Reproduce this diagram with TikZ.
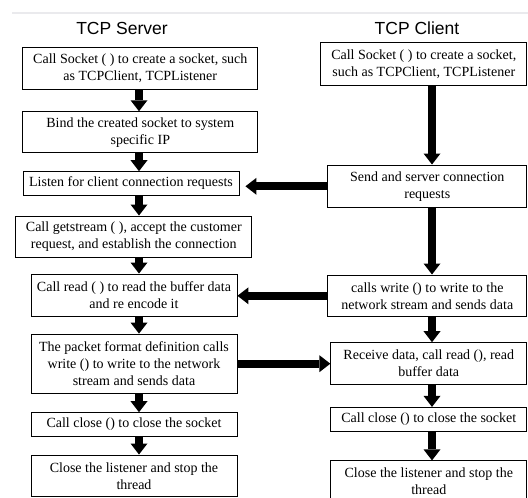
\documentclass[tikz,border=0pt]{standalone}
\usepackage{fontspec}
\setmainfont{Liberation Serif}
\newfontfamily\titlefont{Liberation Sans}
\usetikzlibrary{arrows.meta}
\tikzset{
  box/.style={draw, line width=0.9pt, inner sep=0pt, align=center,
    font=\fontsize{14}{17}\selectfont},
  title/.style={font=\titlefont\fontsize{17.5}{20}\selectfont},
  flow/.style={line width=8pt, -{Triangle[width=17pt,length=11pt,line width=0pt]}},
  rule/.style={draw=blue!8!gray!15, line width=2pt}
}

\begin{document}
\begin{tikzpicture}[x=1pt,y=-1pt]
  \useasboundingbox (0,0) rectangle (528,498);
  \draw[rule] (12,13) -- (528,13);

  \node[title] (srv) at (122,28) {TCP Server};
  \node[title] (cli) at (417,28) {TCP Client};
  \coordinate (saxis) at (139,0);
  \coordinate (caxis) at (432,0);

  % server side
  \node[box, minimum width=235, minimum height=41.6] (s1) at (140.3,68.5)
    {Call Socket ( ) to create a socket, such\\ as TCPClient, TCPListener};
  \node[box, minimum width=235, minimum height=41] (s2) at (140.3,132.2)
    {Bind the created socket to system\\ specific IP};
  \node[box, minimum width=216, minimum height=23.3] (s3) at (131,183.3)
    {Listen for client connection requests};
  \node[box, minimum width=236, minimum height=41.7] (s4) at (133.8,236.8)
    {Call getstream ( ), accept the customer\\ request, and establish the connection};
  \node[box, minimum width=206, minimum height=42] (s5) at (134,295)
    {Call read ( ) to read the buffer data\\ and re encode it};
  \node[box, minimum width=206, minimum height=59.3] (s6) at (134,363.7)
    {The packet format definition calls\\ write () to write to the network\\ stream and sends data};
  \node[box, minimum width=206, minimum height=23.3] (s7) at (134,424.3)
    {Call close () to close the socket};
  \node[box, minimum width=206, minimum height=41.7] (s8) at (134,475.8)
    {Close the listener and stop the\\ thread};

  % client side
  \node[box, minimum width=206, minimum height=42.3] (c1) at (423.8,63.8)
    {Call Socket ( ) to create a socket,\\ such as TCPClient, TCPListener};
  \node[box, minimum width=199, minimum height=42.7] (c2) at (427.3,186.3)
    {Send and server connection\\ requests};
  \node[box, minimum width=199, minimum height=41.7] (c3) at (427.3,295.8)
    {calls write () to write to the\\ network stream and sends data};
  \node[box, minimum width=196, minimum height=41.3] (c4) at (428.8,363.3)
    {Receive data, call read (), read\\ buffer data};
  \node[box, minimum width=196, minimum height=23.7] (c5) at (428.8,419.2)
    {Call close () to close the socket};
  \node[box, minimum width=196, minimum height=41.3] (c6) at (428.8,481.5)
    {Close the listener and stop the\\ thread};

  \foreach \a/\b in {s1/s2, s2/s3, s3/s4, s4/s5, s5/s6, s6/s7, s7/s8}
    \draw[flow] (\a.south -| saxis) -- (\b.north -| saxis);
  \foreach \a/\b in {c1/c2, c2/c3, c3/c4, c4/c5, c5/c6}
    \draw[flow] (\a.south -| caxis) -- (\b.north -| caxis);

  \draw[flow, shorten >=6pt] (c2.west) -- (s3.east |- c2.west);
  \draw[flow] (c3.west) -- (s5.east |- c3.west);
  \draw[flow] (s6.east) -- (c4.west |- s6.east);
\end{tikzpicture}
\end{document}
